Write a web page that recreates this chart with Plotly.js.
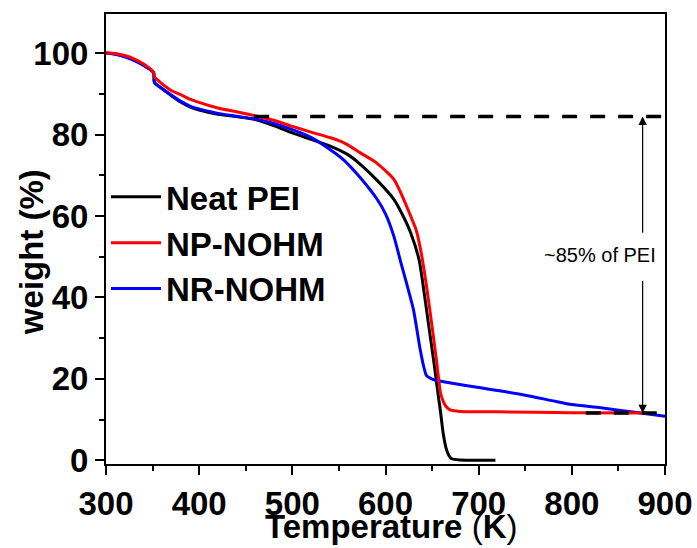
<!DOCTYPE html>
<html>
<head>
<meta charset="utf-8">
<script src="https://cdn.plot.ly/plotly-3.0.1.min.js"></script>
<style>html,body{margin:0;padding:0;background:#fff;}#chart{width:697px;height:548px;}</style>
</head>
<body>
<div id="chart"></div>
<script>
// Neat PEI
const tempPEI = [300,310,320,330,340,351,352,360,370,380,390,400,420,440,460,480,500,520,540,560,573,590,609,620,627,636,639.5,646.5,652,656,659,662,665,668,671,680,700,718];
const wPEI    = [100,99.8,99.2,98.3,97.1,95.3,92.8,91.3,89.6,88.0,86.8,86.0,85.0,84.4,83.7,82.2,80.4,78.8,77.2,75.0,72.7,69.0,64.1,59.5,55.9,49.3,44.4,32.9,24.0,17.0,12.0,6.5,3.0,1.2,0.4,0.1,0.0,0.0];
// NP-NOHM
const tempNP = [300,310,320,330,340,351,352,360,370,380,390,400,420,440,460,480,500,520,541,552,560,573,590,609,618,627,633,637.6,643,650,655,659,662,665,670,680,720,800,880];
const wNP    = [100,99.9,99.4,98.6,97.4,95.3,94.1,92.5,90.8,89.8,88.7,87.9,86.5,85.6,84.6,83.5,82.0,80.6,79.2,78.3,77.4,75.5,73.1,69.0,64.9,60.0,56.5,51.8,44.4,32.9,24.0,16.6,14.5,13.2,12.3,12.0,11.9,11.7,11.6];
// NR-NOHM
const tempNR = [300,310,320,330,340,351,352,360,370,380,390,400,420,440,460,480,500,520,540,555,573,591,600,609,616,622,630,637,641,644,648,652,670,702,724,750,780,800,831,874,900];
const wNR    = [100,99.7,99.1,98.2,97.0,95.2,92.7,91.3,89.7,88.2,87.0,86.3,85.2,84.5,83.8,82.7,81.2,79.3,76.4,73.8,69.4,64.1,60.5,55.0,49.0,44.0,37.0,27.5,23.0,20.8,20.2,19.8,19.0,17.8,17.0,16.0,14.6,13.7,12.9,11.6,10.8];
// reference levels (dashed guides) and arrow
const upperTemp = [459, 900];
const upperLevel = [84.4, 84.4];
const lowerTemp = [815, 892];
const lowerLevel = [11.6, 11.6];
const arrowTemp = 876;
const arrowTails = [55.5, 44.4];
const noteText = '~85% of PEI';
const noteTemp = 830, noteLevel = 50.3;
const names = ['Neat PEI', 'NP-NOHM', 'NR-NOHM'];
const xTickVals = [300,400,500,600,700,800,900];
const yTickVals = [0,20,40,60,80,100];
const xTitle = 'Temperature <span style="font-weight:normal">(</span>K<span style="font-weight:normal">)</span>';
const yTitle = 'weight (%)';

const FONT = 'Arial, "Liberation Sans", sans-serif';
const FS = 33;
const traces = [
  {x: tempPEI, y: wPEI, name: names[0], mode: 'lines', line: {color: '#000000', width: 3, shape: 'spline', smoothing: 0.6}, legendrank: 1},
  {x: tempNR, y: wNR, name: names[2], mode: 'lines', line: {color: '#0000ff', width: 3, shape: 'spline', smoothing: 0.6}, legendrank: 3},
  {x: tempNP, y: wNP, name: names[1], mode: 'lines', line: {color: '#ff0000', width: 3, shape: 'spline', smoothing: 0.6}, legendrank: 2},
  {x: upperTemp, y: upperLevel, mode: 'lines', showlegend: false, line: {color: '#000000', width: 3.5, dash: '15px,13px'}},
  {x: lowerTemp, y: lowerLevel, mode: 'lines', showlegend: false, line: {color: '#000000', width: 3.5, dash: '15px,13px'}}
];

const axisCommon = {
  showline: true, linecolor: '#000', linewidth: 2, mirror: true,
  ticks: 'outside', ticklen: 9, tickwidth: 2, tickcolor: '#000',
  showgrid: false, zeroline: false,
  tickfont: {family: FONT, size: FS, color: '#000', weight: 'bold'}
};

const layout = {
  width: 697, height: 548,
  margin: {l: 106, r: 32, t: 14, b: 84},
  paper_bgcolor: '#fff', plot_bgcolor: '#fff',
  font: {family: FONT, color: '#000'},
  xaxis: Object.assign({}, axisCommon, {
    range: [300, 900], tickvals: xTickVals,
    minor: {dtick: 50, ticklen: 5, tickwidth: 2, tickcolor: '#000', ticks: 'outside'}
  }),
  yaxis: Object.assign({}, axisCommon, {
    range: [-0.9, 109.6], tickvals: yTickVals,
    minor: {dtick: 10, ticklen: 5, tickwidth: 2, tickcolor: '#000', ticks: 'outside'}
  }),
  legend: {
    x: 0, y: 0.656, xanchor: 'left', yanchor: 'top',
    bgcolor: 'rgba(0,0,0,0)', borderwidth: 0,
    font: {family: FONT, size: FS, weight: 'bold', color: '#000'},
    itemwidth: 50, tracegroupgap: 0
  },
  annotations: [
    {x: arrowTemp, y: upperLevel[0], ax: arrowTemp, ay: arrowTails[0], axref: 'x', ayref: 'y', xref: 'x', yref: 'y',
     showarrow: true, arrowhead: 2, arrowsize: 1.4, arrowwidth: 1.2, arrowcolor: '#000', text: ''},
    {x: arrowTemp, y: lowerLevel[0], ax: arrowTemp, ay: arrowTails[1], axref: 'x', ayref: 'y', xref: 'x', yref: 'y',
     showarrow: true, arrowhead: 2, arrowsize: 1.4, arrowwidth: 1.2, arrowcolor: '#000', text: ''},
    {x: noteTemp, y: noteLevel, xref: 'x', yref: 'y', showarrow: false, text: noteText,
     font: {family: FONT, size: 20, color: '#000'}},
    {x: 0.5098, y: -0.1378, xref: 'paper', yref: 'paper', xanchor: 'center', yanchor: 'middle', showarrow: false,
     text: xTitle, font: {family: FONT, size: FS, weight: 'bold', color: '#000'}},
    {x: -0.134, y: 0.471, xref: 'paper', yref: 'paper', xanchor: 'center', yanchor: 'middle', showarrow: false,
     textangle: -90, text: yTitle, font: {family: FONT, size: FS, weight: 'bold', color: '#000'}}
  ]
};

Plotly.newPlot('chart', traces, layout, {displayModeBar: false, staticPlot: true});
</script>
</body>
</html>
